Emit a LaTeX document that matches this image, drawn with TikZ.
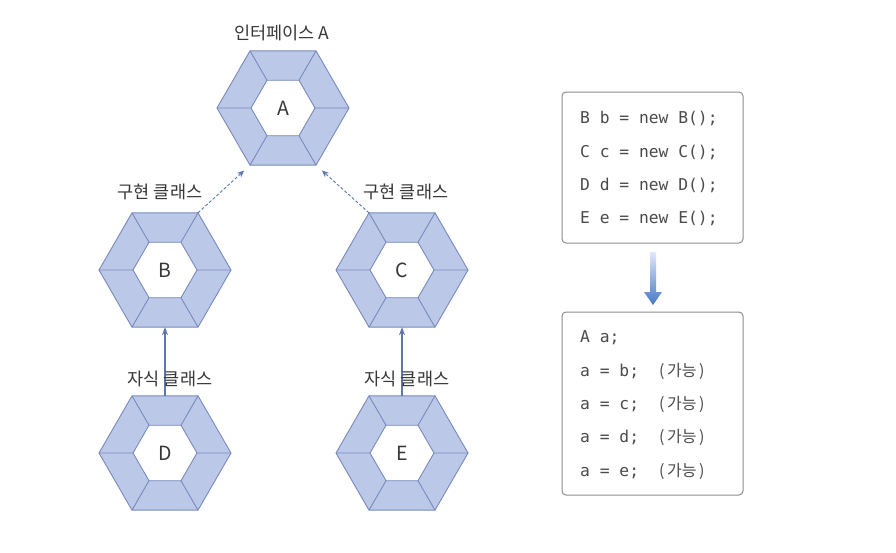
\documentclass[tikz,border=0pt]{standalone}
\usepackage{fontspec}
\setmainfont{Noto Sans CJK KR}
\newfontfamily\codefont{DejaVu Sans Mono}
\newfontfamily\krfont{Noto Sans CJK KR}
\usetikzlibrary{shapes.geometric,arrows.meta}
\definecolor{hexfill}{RGB}{188,200,232}
\definecolor{hexline}{RGB}{120,138,188}
\definecolor{arrline}{RGB}{92,118,176}
\definecolor{boxline}{RGB}{140,140,140}
\definecolor{txt}{RGB}{55,55,55}
\definecolor{codetxt}{RGB}{75,75,75}
\definecolor{bluetop}{RGB}{225,232,248}
\definecolor{bluebot}{RGB}{70,120,200}
\tikzset{
  hexo/.style={regular polygon, regular polygon sides=6, minimum size=132pt,
    inner sep=0pt, outer sep=0pt, draw=hexline, fill=hexfill, line width=0.9pt},
  hexi/.style={regular polygon, regular polygon sides=6, minimum size=64pt,
    inner sep=0pt, outer sep=0pt, draw=hexline, fill=white, line width=0.9pt,
    text=txt, font=\fontsize{19.5}{21}\selectfont},
  spoke/.style={draw=hexline, line width=0.9pt},
  lbl/.style={text=txt, font=\fontsize{17.5}{19}\selectfont, inner sep=0pt},
  impl/.style={draw=arrline, dashed, line width=0.9pt, dash pattern=on 3pt off 2pt,
    -{Stealth[length=7pt,width=6pt]}, shorten >=8pt},
  inh/.style={draw=arrline, line width=1.1pt, -{Stealth[length=8pt,width=6pt]}},
  codebox/.style={draw=boxline, line width=1pt, rounded corners=4pt, fill=white,
    minimum width=181pt, inner sep=0pt},
  codeline/.style={anchor=west, inner sep=0pt, text=codetxt,
    font=\codefont\fontsize{16.3}{18}\selectfont, text height=11pt, text depth=3pt},
  okline/.style={anchor=west, inner sep=0pt, text=codetxt,
    font=\krfont\fontsize{16}{18}\selectfont, text height=11pt, text depth=3pt},
}
\newcommand\mkhex[4]{%
  \node[hexo] (#1) at (#2,#3) {};
  \node[hexi] (#1i) at (#2,#3) {#4};
  \foreach \k in {0,60,...,300} {\draw[spoke] (#1.\k) -- (#1i.\k);}
}
\begin{document}
\begin{tikzpicture}[x=1pt,y=-1pt]
\useasboundingbox[fill=white] (0,0) rectangle (896,552);
% hexagons
\mkhex{A}{283}{108}{A}
\mkhex{B}{165}{270}{B}
\mkhex{C}{402}{270}{C}
\mkhex{D}{165}{453}{D}
\mkhex{E}{402}{453}{E}
% labels
\node[lbl] (lA) at (282,33) {인터페이스 A};
\node[lbl] (lB) at (160,192) {구현 클래스};
\node[lbl] (lC) at (406,192) {구현 클래스};
% connectors
\draw[impl] (B.60) -- (A.240);
\draw[impl] (C.120) -- (A.300);
\draw[inh] (D.90) -- (B.270);
\draw[inh] (E.90) -- (C.270);
\node[lbl] (lD) at (170,379) {자식 클래스};
\node[lbl] (lE) at (407,379) {자식 클래스};
% code boxes
\node[codebox, minimum height=151pt] (box1) at (652.5,167.5) {};
\node[codeline] (c1) at (580,119) {B b = new B();};
\node[codeline] (c2) at (580,153) {C c = new C();};
\node[codeline] (c3) at (580,186) {D d = new D();};
\node[codeline] (c4) at (580,219) {E e = new E();};
\node[codebox, minimum height=183pt] (box2) at (652.5,403.5) {};
\node[codeline] (d1) at (580,338) {A a;};
\node[codeline] (d2) at (580,372) {a = b;};
\node[codeline] (d3) at (580,405) {a = c;};
\node[codeline] (d4) at (580,438) {a = d;};
\node[codeline] (d5) at (580,472) {a = e;};
\foreach \n/\y in {k2/372,k3/405,k4/438,k5/472}
  \node[okline] (\n) at (659,\y) {(\hspace{2.5pt}가능\hspace{2.5pt})};
% transform arrow
\shade[top color=bluetop, bottom color=bluebot]
  (650,252) -- (656,252) -- (656,292) -- (662,292) -- (653,305) -- (644,292) -- (650,292) -- cycle;
\end{tikzpicture}
\end{document}
